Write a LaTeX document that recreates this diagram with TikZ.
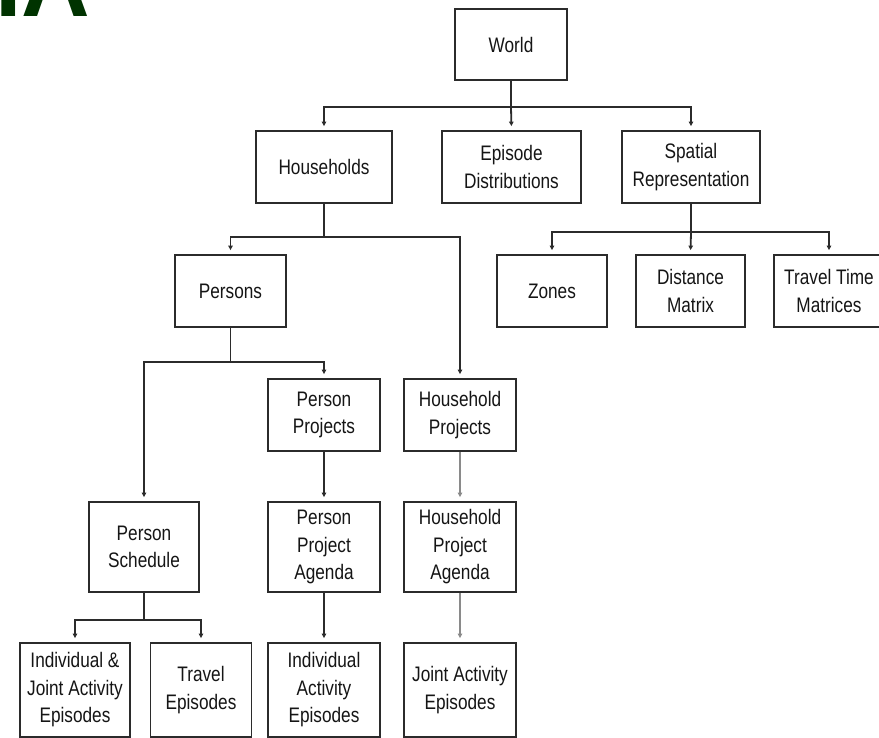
\documentclass[tikz,border=0pt]{standalone}
\usepackage{fontspec}
\setmainfont{Liberation Sans}[FakeStretch=0.82]
\newfontfamily\logofont{Liberation Sans}[FakeStretch=1.0]
\usetikzlibrary{arrows.meta}
\definecolor{ink}{HTML}{2B2B2B}
\definecolor{txt}{HTML}{151515}
\definecolor{soft}{HTML}{8A8A8A}
\definecolor{logogreen}{HTML}{003300}
\tikzset{
  x=1pt, y=-1pt,
  box/.style={draw=ink, line width=1.8pt, fill=white, inner sep=2pt,
    align=center, text=txt, font=\fontsize{21}{27.5}\selectfont},
  link/.style={draw=ink, line width=1.8pt},
  arr/.style={link, -{Triangle[width=4.5pt,length=4.5pt]}, shorten >=4pt},
  softarr/.style={arr, draw=soft},
}
% box of given width and height centred on (x,y)
\newcommand{\wbox}[6]{\node[box, minimum width=#4pt, minimum height=#5pt] (#1) at (#2,#3) {#6};}
\begin{document}
\begin{tikzpicture}
\useasboundingbox (0,0) rectangle (879,738);
\clip (0,0) rectangle (879,738);

% logo fragment at the top left corner
\node[anchor=base west, inner sep=0pt, text=logogreen,
  font=\logofont\fontsize{95}{95}\selectfont\bfseries] (logo) at (-5,17) {IA};

% boxes
\wbox{world}{511}{44.5}{112}{71}{World}
\wbox{hh}{324}{167}{136}{72}{Households}
\wbox{epi}{511.5}{167}{139}{72}{Episode\\Distributions}
\wbox{spat}{691}{167}{138}{72}{Spatial\\Representation}

\wbox{pers}{230.5}{291}{111}{72}{Persons}
\wbox{zones}{552}{291}{110}{72}{Zones}
\wbox{dist}{690.5}{291}{109}{72}{Distance\\Matrix}
\wbox{ttm}{829}{291}{110}{72}{Travel Time\\Matrices}

\wbox{pproj}{324}{415}{112}{72}{Person\\Projects}
\wbox{hproj}{460}{415}{112}{72}{Household\\Projects}

\wbox{psched}{144}{547}{110}{90}{Person\\Schedule}
\wbox{ppa}{324}{547}{112}{90}{Person\\Project\\Agenda}
\wbox{hpa}{460}{547}{112}{90}{Household\\Project\\Agenda}

\wbox{ije}{75}{690}{110}{94}{Individual \&\\Joint Activity\\Episodes}
\wbox{tep}{201}{690}{101}{94}{Travel\\Episodes}
\wbox{iae}{324}{690}{112}{94}{Individual\\Activity\\Episodes}
\wbox{jae}{460}{690}{112}{94}{Joint Activity\\Episodes}

% bus junctions
\coordinate (bw) at (511,107);
\coordinate (bh) at (324,237);
\coordinate (bs) at (691,232);
\coordinate (bp) at (230.5,362);
\coordinate (bps) at (144,620);

% World
\draw[link] (world.south) -- (bw);
\draw[arr] (bw) -| (hh.north);
\draw[arr] (bw) -- (epi.north);
\draw[arr] (bw) -| (spat.north);

% Households
\draw[link] (hh.south) -- (bh);
\draw[arr] (bh) -| (pers.north);
\draw[arr] (bh) -| (hproj.north);

% Spatial representation
\draw[link] (spat.south) -- (bs);
\draw[arr] (bs) -| (zones.north);
\draw[arr] (bs) -- (dist.north);
\draw[arr] (bs) -| (ttm.north);

% Persons
\draw[link] (pers.south) -- (bp);
\draw[arr] (bp) -| (psched.north);
\draw[arr] (bp) -| (pproj.north);

% project chains
\draw[arr] (pproj) -- (ppa);
\draw[arr] (ppa) -- (iae);
\draw[softarr] (hproj) -- (hpa);
\draw[softarr] (hpa) -- (jae);

% Person schedule
\draw[link] (psched.south) -- (bps);
\draw[arr] (bps) -| (ije.north);
\draw[arr] (bps) -| (tep.north);
\end{tikzpicture}
\end{document}
